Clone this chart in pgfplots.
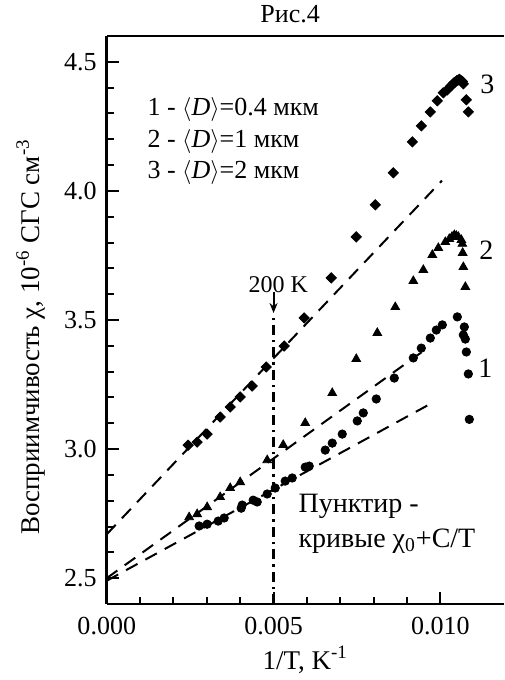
\documentclass[border=0pt]{standalone}
\usepackage{fontspec}
\setmainfont{Liberation Serif}
\usepackage{pgfplots}
\pgfplotsset{compat=1.18}
\usetikzlibrary{arrows.meta}

% 1 - <D>=0.4 mkm (circles)
\pgfplotstableread{
x y
0.00277 2.702
0.00301 2.709
0.00334 2.721
0.00352 2.733
0.00403 2.771
0.00406 2.783
0.00439 2.802
0.00451 2.795
0.00481 2.826
0.00505 2.849
0.00535 2.876
0.00556 2.888
0.00595 2.930
0.00607 2.934
0.00655 2.996
0.00676 3.023
0.00706 3.058
0.00751 3.109
0.00769 3.140
0.00808 3.194
0.00862 3.275
0.00919 3.353
0.00943 3.391
0.00970 3.430
0.00988 3.461
0.01006 3.481
0.01051 3.512
0.01072 3.473
0.01069 3.442
0.01075 3.426
0.01078 3.376
0.01084 3.291
0.01087 3.115
}\dataA

% 2 - <D>=1 mkm (triangles)
\pgfplotstableread{
x y
0.00247 2.736
0.00271 2.748
0.00301 2.775
0.00340 2.814
0.00370 2.849
0.00400 2.872
0.00481 2.957
0.00529 3.016
0.00595 3.101
0.00676 3.217
0.00748 3.349
0.00811 3.450
0.00865 3.550
0.00919 3.651
0.00949 3.694
0.00976 3.752
0.00994 3.779
0.01015 3.802
0.01027 3.814
0.01035 3.822
0.01042 3.829
0.01048 3.826
0.01054 3.822
0.01063 3.810
0.01066 3.795
0.01067 3.760
0.01069 3.705
0.01075 3.628
}\dataB

% 3 - <D>=2 mkm (diamonds)
\pgfplotstableread{
x y
0.00244 3.015
0.00271 3.027
0.00301 3.058
0.00340 3.124
0.00370 3.163
0.00400 3.202
0.00436 3.244
0.00478 3.318
0.00532 3.399
0.00592 3.508
0.00673 3.663
0.00748 3.822
0.00805 3.946
0.00859 4.070
0.00916 4.190
0.00943 4.252
0.00970 4.306
0.00991 4.349
0.01009 4.380
0.01021 4.391
0.01030 4.405
0.01036 4.411
0.01040 4.418
0.01045 4.422
0.01050 4.428
0.01054 4.430
0.01058 4.432
0.01063 4.426
0.01066 4.424
0.01069 4.415
0.01078 4.353
0.01084 4.306
}\dataC

\begin{document}
\begin{tikzpicture}
\begin{axis}[
    scale only axis, width=198.35pt, height=283.8pt,
    xmin=0, xmax=0.0119, ymin=2.4, ymax=4.6,
    axis x line*=box, axis y line*=left,
    axis line style={line width=1.3pt, -},
    x axis line style={-}, y axis line style={-},
    xtick={0,0.005,0.010}, ytick={2.5,3.0,3.5,4.0,4.5},
    minor x tick num=4, minor y tick num=4,
    xtick pos=bottom, ytick pos=left,
    tick align=inside,
    major tick length=6pt, minor tick length=3.5pt,
    tick style={line width=1pt, black},
    scaled x ticks=false,
    x tick label style={/pgf/number format/fixed, /pgf/number format/precision=3,
        /pgf/number format/fixed zerofill, /pgf/number format/assume math mode=true,
        font=\fontsize{13}{15}\selectfont, yshift=-3pt},
    y tick label style={/pgf/number format/fixed, /pgf/number format/precision=1,
        /pgf/number format/fixed zerofill, /pgf/number format/assume math mode=true,
        font=\fontsize{13}{15}\selectfont, xshift=-1.5pt},
    xlabel={1/T, K\textsuperscript{-1}},
    ylabel={Восприимчивость χ, 10\textsuperscript{-6} СГС см\textsuperscript{-3}},
    xlabel style={at={(rel axis cs:0.5,-0.0987)}, anchor=center,
        font=\fontsize{13.5}{15}\selectfont},
    ylabel style={at={(rel axis cs:-0.1916,0.47)}, anchor=center,
        font=\fontsize{13.5}{15}\selectfont},
    clip=false,
]
\coordinate (ll) at (rel axis cs:0,0);
\coordinate (ur) at (rel axis cs:1,1);

% chi_0 + C/T fits
\addplot[black, line width=1pt, dash pattern=on 6.5pt off 4.5pt] coordinates {(0,2.49) (0.0097,3.175)};
\addplot[black, line width=1pt, dash pattern=on 6.5pt off 4.5pt] coordinates {(0,2.50) (0.0096,3.39)};
\addplot[black, line width=1pt, dash pattern=on 6.5pt off 4.5pt] coordinates {(0,2.67) (0.01005,4.04)};

% 200 K marker
\addplot[black, line width=1.1pt, dash pattern=on 5pt off 2.5pt on 1.2pt off 2.5pt] coordinates {(0.005,2.4) (0.005,3.527)};
\addplot[black, line width=1pt, -{Stealth[length=5pt,width=4pt]}] coordinates {(0.005,3.61) (0.005,3.527)};

\addplot[only marks, mark=*, mark size=2.1pt, black] table {\dataA};
\addplot[only marks, mark=triangle*, mark size=2.5pt, black] table {\dataB};
\addplot[only marks, mark=square*, mark size=1.8pt, black, mark options={rotate=45}] table {\dataC};

\begin{scope}[font=\fontsize{13}{15}\selectfont]
\node at (axis cs:0.0055,4.686) {Рис.4};
\node[anchor=west, inner sep=0pt] at (axis cs:0.00121,4.314) {1 - $\langle$\textit{D}$\rangle$=0.4 мкм};
\node[anchor=west, inner sep=0pt] at (axis cs:0.00121,4.190) {2 - $\langle$\textit{D}$\rangle$=1 мкм};
\node[anchor=west, inner sep=0pt] at (axis cs:0.00121,4.070) {3 - $\langle$\textit{D}$\rangle$=2 мкм};
\node at (axis cs:0.01141,4.411) {\fontsize{14}{16}\selectfont 3};
\node at (axis cs:0.01138,3.771) {\fontsize{14}{16}\selectfont 2};
\node at (axis cs:0.01135,3.314) {\fontsize{14}{16}\selectfont 1};
\node at (axis cs:0.00514,3.636) {\fontsize{12}{14}\selectfont 200 K};
\node[anchor=west, inner sep=0pt] at (axis cs:0.00574,2.779) {\fontsize{14}{16}\selectfont Пунктир -};
\node[anchor=west, inner sep=0pt] at (axis cs:0.00574,2.643) {\fontsize{14}{16}\selectfont кривые χ\textsubscript{0}+C/T};
\end{scope}
\end{axis}
\pgfresetboundingbox
\path ([xshift=-53.35pt,yshift=-38pt]ll) rectangle ([xshift=0.3pt,yshift=18pt]ur);
\end{tikzpicture}
\end{document}
